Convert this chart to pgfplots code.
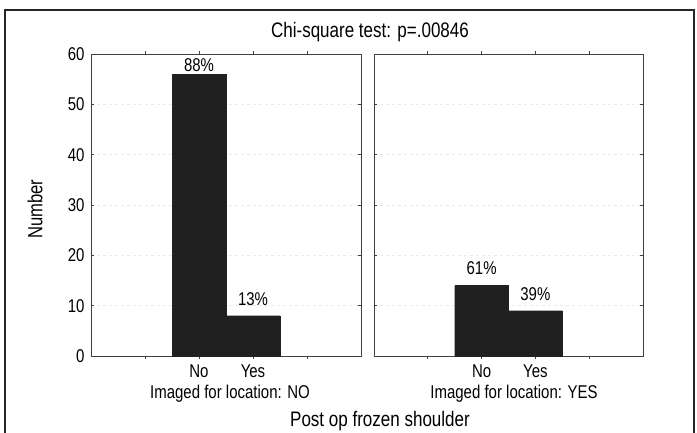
\documentclass[border=0pt]{standalone}
\usepackage{fontspec}
\setmainfont{Liberation Sans}[FakeStretch=0.81]
\usepackage{pgfplots}
\pgfplotsset{compat=1.18}
\definecolor{barc}{HTML}{202020}
\definecolor{axc}{HTML}{404040}
\newcommand{\lab}{\fontsize{18.5}{22}\selectfont}
\newcommand{\bigfs}{\fontsize{21}{25}\selectfont}
\newcommand{\ylabfs}{\fontsize{20.5}{24}\selectfont}
\begin{document}
\begin{tikzpicture}[x=1pt,y=1pt]
\useasboundingbox (0,0) rectangle (697,432);
\draw[line width=1.8pt, black!85] (5,-2) -- (5,422) -- (694,422) -- (694,-2);
\pgfplotsset{
  panel/.style={
    scale only axis, width=270pt, height=302pt, anchor=south west,
    xmin=0, xmax=5, ymin=0, ymax=60,
    xtick={1,2,3,4}, xticklabels={,No,Yes,},
    ytick={0,10,20,30,40,50,60},
    tick align=inside, major tick length=3pt,
    axis line style={axc, line width=0.9pt},
    tick style={axc, line width=0.9pt},
    ymajorgrids, grid style={black!8, dashed, line width=0.6pt},
    ticklabel style={font=\lab},
    yticklabel style={xshift=-3pt},
    xticklabel style={yshift=-2pt},
    /pgf/number format/assume math mode=true,
    ybar, bar width=1,
    clip=false,
  }
}
\begin{axis}[panel, at={(91pt,76pt)}]
  \addplot[fill=barc, draw=barc] coordinates {(2,56) (3,8)};
  \node[anchor=base, font=\lab] at (axis cs:2,56.5) {88\%};
  \node[anchor=base, font=\lab] at (axis cs:3,10.1) {13\%};
\end{axis}
\begin{axis}[panel, at={(374pt,76pt)}, width=269pt, yticklabels={}]
  \addplot[fill=barc, draw=barc] coordinates {(2,14) (3,9)};
  \node[anchor=base, font=\lab] at (axis cs:2,16.1) {61\%};
  \node[anchor=base, font=\lab] at (axis cs:3,11.1) {39\%};
\end{axis}
\node[font=\bigfs] at (370,400) {Chi-square test: p=.00846};
\node[font=\ylabfs, rotate=90] at (35,223) {Number};
\node[font=\lab] at (230,38) {Imaged for location: NO};
\node[font=\lab] at (514,38) {Imaged for location: YES};
\node[font=\bigfs] at (380,11) {Post op frozen shoulder};
\end{tikzpicture}
\end{document}
